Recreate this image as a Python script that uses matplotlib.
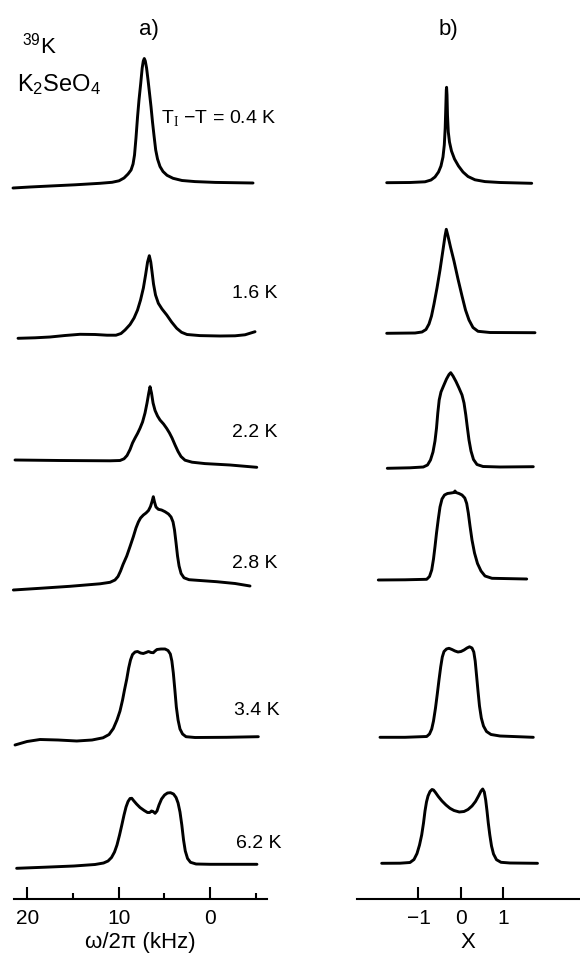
import matplotlib
matplotlib.use("Agg")
import matplotlib.pyplot as plt
import numpy as np

plt.rcParams['font.family'] = ['Liberation Sans', 'DejaVu Sans']
plt.rcParams['mathtext.fontset'] = 'custom'
plt.rcParams['mathtext.rm'] = 'Liberation Serif'
plt.rcParams['mathtext.sf'] = 'Liberation Sans'
plt.rcParams['mathtext.it'] = 'Liberation Sans:italic'

# ---------------- data ----------------
temps = ["0.4", "1.6", "2.2", "2.8", "3.4", "6.2"]   # T_I - T in K

# a) measured 39K spectra: frequency (kHz) and intensity (arb. units)
a_offsets = [716, 563, 438, 318, 161, 34]

a1_f = [21.58, 19.72, 17.52, 14.79, 12.05, 10.73, 9.97, 9.42, 8.98, 8.65, 8.43, 8.27, 8.11, 7.94,
        7.78, 7.59, 7.43, 7.31, 7.20, 7.09, 6.95, 6.79, 6.63, 6.46, 6.30, 6.13, 5.95, 5.75, 5.48,
        5.15, 4.71, 4.05, 3.07, 1.64, -0.55, -4.71]
a1_i = [-5, -4, -3, -1.8, -0.3, 0.7, 2.2, 5, 9, 13, 19, 28, 45, 66,
        83, 99.7, 115, 122, 124.5, 122, 115, 103, 90, 76, 61, 47, 33, 24, 16.5,
        11.5, 7.7, 4.7, 2.5, 1.4, 0.6, 0]

a2_f = [21.03, 19.17, 17.52, 15.88, 14.24, 12.59, 11.28, 10.30, 9.75, 9.31, 8.76, 8.32, 7.94, 7.61,
        7.30, 7.06, 6.84, 6.65, 6.49, 6.35, 6.19, 5.97, 5.66, 5.26, 4.74, 4.21, 3.65, 3.12, 2.52,
        1.10, -1.10, -2.74, -3.83, -4.93]
a2_i = [-2.3, -1.8, -1, 0.5, 1.7, 1.5, 0.8, 0.8, 2.5, 6, 11.5, 18, 26, 36,
        48, 61, 74, 80.3, 74, 64, 52, 41, 32.7, 27, 21, 14, 7.7, 3.7, 1.5,
        0.4, 0, 0.2, 1.2, 4.3]

a3_f = [21.36, 16.43, 10.95, 9.86, 9.42, 9.09, 8.76, 8.49, 8.21, 7.94, 7.67, 7.39, 7.12, 6.90,
        6.71, 6.57, 6.41, 6.24, 6.02, 5.75, 5.48, 5.09, 4.74, 4.44, 4.16, 3.83, 3.50, 3.18, 2.74,
        1.97, 0.55, -2.19, -5.12]
a3_i = [1, 0.5, 0.2, 0.5, 2.2, 5.5, 11.5, 18, 23, 27.5, 32.7, 39, 48, 58,
        68, 74.3, 68, 58, 50.5, 45, 41, 37, 32.5, 28, 23, 16, 9.5, 4.5, 0.8,
        -1.2, -2.6, -4, -6.3]

a4_f = [21.54, 18.62, 15.33, 12.05, 10.95, 10.41, 10.08, 9.80, 9.53, 9.12, 8.76, 8.40, 8.11, 7.85,
        7.61, 7.30, 7.01, 6.74, 6.52, 6.35, 6.21, 6.08, 5.92, 5.66, 5.31, 4.93, 4.55, 4.27, 4.05,
        3.89, 3.72, 3.56, 3.39, 3.17, 2.85, 2.30, 1.10, -0.73, -2.74, -4.38]
a4_i = [-9, -7.3, -5.3, -2.8, -1.3, 1, 4.5, 10, 16.5, 25, 34.5, 44.3, 53, 59,
        63, 66, 68, 70.5, 74.5, 79.5, 84.3, 79, 74, 71.7, 71, 69.3, 67, 64, 59,
        51, 38, 25, 15, 7.5, 3.2, 1.3, 0.5, -0.7, -2.5, -5]

a5_f = [21.36, 20.04, 18.62, 16.65, 14.60, 12.92, 11.72, 11.06, 10.59, 10.19, 9.86, 9.58, 9.37, 9.12,
        8.91, 8.71, 8.49, 8.21, 7.94, 7.61, 7.31, 7.01, 6.74, 6.46, 6.21, 6.02, 5.81, 5.37, 4.93,
        4.60, 4.35, 4.18, 4.02, 3.85, 3.69, 3.50, 3.29, 3.01, 2.63, 1.64, -1.83, -5.29]
a5_i = [-7, -3.5, -1.5, -2, -3, -2, 0.2, 3.5, 9.5, 18, 27, 38, 48, 59,
        70, 78, 83.5, 86, 86.5, 85, 84.5, 85.5, 86.5, 85.5, 85.3, 87, 88.5, 89, 89,
        87.5, 84, 77, 65, 48, 31, 18, 9, 4, 1.3, 0.5, 0.7, 1.3]

a6_f = [21.18, 18.07, 14.91, 12.60, 11.66, 11.17, 10.79, 10.46, 10.19, 9.91, 9.66, 9.42, 9.20, 8.98,
        8.76, 8.57, 8.38, 8.05, 7.67, 7.21, 6.85, 6.60, 6.41, 6.24, 6.02, 5.81, 5.59, 5.31, 4.98,
        4.66, 4.33, 4.00, 3.72, 3.50, 3.29, 3.09, 2.90, 2.71, 2.46, 2.14, 1.53, 0.0, -5.14]
a6_i = [-3.3, -2.2, -1, 0.5, 2, 4, 7.5, 13, 20, 30, 40, 50, 58, 63.5,
        66.5, 66.7, 64.5, 61, 57.5, 54.5, 52.5, 52.5, 54, 53.5, 51.7, 54, 60, 66, 70,
        72, 72.3, 71, 67.5, 62, 53, 40, 25, 14, 6.5, 2.7, 1, 0.7, 0.7]

# b) calculated line shapes: X and intensity (arb. units)
b_offsets = [716, 566, 432, 320, 162, 36]

b1_x = [-1.748, -1.200, -0.847, -0.706, -0.612, -0.529, -0.471, -0.424, -0.393, -0.372, -0.358,
        -0.346, -0.339, -0.329, -0.318, -0.299, -0.271, -0.224, -0.153, -0.059, 0.047, 0.165,
        0.329, 0.565, 0.918, 1.664]
b1_i = [0.3, 0.5, 1.2, 3, 6, 11, 17, 26, 38, 55, 75,
        93, 95.7, 88, 68, 51, 41, 32, 24, 17, 11, 6.5,
        3.2, 1.4, 0.5, -0.3]

b2_x = [-1.748, -1.082, -0.918, -0.824, -0.753, -0.694, -0.635, -0.565, -0.494, -0.424, -0.376,
        -0.346, -0.306, -0.247, -0.165, -0.071, 0.024, 0.106, 0.188, 0.282, 0.400, 0.682, 1.741]
b2_i = [-0.3, 0, 1, 3.5, 9, 17, 29, 45, 63, 83, 97,
        103.7, 97, 86, 72, 54, 37, 23, 13, 5.5, 1.7, 0.5, 0.3]

b3_x = [-1.734, -1.200, -0.887, -0.788, -0.718, -0.659, -0.612, -0.576, -0.546, -0.513, -0.471,
        -0.412, -0.341, -0.282, -0.242, -0.188, -0.118, -0.047, 0.024, 0.071, 0.113, 0.148,
        0.188, 0.235, 0.294, 0.376, 0.518, 0.918, 1.701]
b3_i = [-1.3, -0.8, 0, 2, 7, 15, 26, 39, 54, 67, 75,
        81, 88, 92.5, 94.3, 91, 85.5, 79, 72, 64, 52, 40,
        27, 16, 7.5, 2.5, 0.5, 0, 0.3]

b4_x = [-1.946, -1.318, -0.807, -0.741, -0.689, -0.647, -0.612, -0.576, -0.534, -0.494, -0.447,
        -0.388, -0.318, -0.235, -0.165, -0.141, -0.118, -0.047, 0.024, 0.089, 0.134, 0.172,
        0.212, 0.259, 0.318, 0.388, 0.471, 0.565, 0.729, 1.546]
b4_i = [-1, -0.8, -0.3, 2.5, 9, 20, 32.3, 46, 60, 72, 80,
        84, 85.5, 86, 86.5, 88, 86.5, 85.5, 84, 81, 75.5, 66,
        53, 39, 26, 15.5, 8, 3, 0.7, 0]

b5_x = [-1.906, -1.318, -0.807, -0.741, -0.689, -0.647, -0.600, -0.558, -0.518, -0.478, -0.440,
        -0.400, -0.341, -0.282, -0.212, -0.141, -0.071, 0.0, 0.071, 0.141, 0.200, 0.259,
        0.301, 0.334, 0.365, 0.400, 0.435, 0.478, 0.529, 0.600, 0.706, 0.918, 1.701]
b5_i = [-0.3, -0.3, 0.5, 3, 8, 16, 29, 43, 57, 70, 80,
        85.5, 88, 88.7, 87.5, 86, 85, 85.5, 87, 89, 90.2, 89,
        85, 76, 62, 46, 31, 19, 11, 5.5, 2.5, 1, -0.3]

b6_x = [-1.866, -1.435, -1.200, -1.106, -1.035, -0.976, -0.925, -0.882, -0.847, -0.812, -0.776,
        -0.729, -0.682, -0.647, -0.600, -0.534, -0.447, -0.353, -0.259, -0.165, -0.040, 0.071,
        0.165, 0.259, 0.341, 0.412, 0.471, 0.511, 0.548, 0.581, 0.612, 0.642, 0.678, 0.718,
        0.765, 0.835, 0.941, 1.153, 1.800]
b6_i = [-0.3, -0.2, 0.5, 3.5, 9.5, 18, 28, 40, 52, 61, 67,
        71.5, 73.5, 73, 70.5, 66.5, 62, 58, 54.7, 52.5, 51, 51.5,
        53.5, 57, 61.5, 67, 72, 74, 71, 63, 52, 40, 28, 17,
        9, 3.3, 0.7, 0, -0.3]

a_major = [20, 10, 0]
a_minor = [15, 5, -5]
a_ticklabels = ["20", "10", "0"]
b_major = [-1, 0, 1]
b_ticklabels = ["\u22121", "0", "1"]

# ---------------- figure ----------------
W, H = 580, 955
fig = plt.figure(figsize=(W / 100, H / 100), dpi=100)
fig.patch.set_facecolor('white')

def px(x, y):
    return x / W, 1 - y / H

axis_y = 899
ax_a = fig.add_axes([14 / W, (H - axis_y) / H, 253 / W, axis_y / H])
ax_b = fig.add_axes([356.7 / W, (H - axis_y) / H, (W - 356.7) / W, axis_y / H])
ax_a.set_xlim(21.47, -6.24)
ax_b.set_xlim(-2.454, 2.8)
for ax in (ax_a, ax_b):
    ax.set_ylim(0, axis_y)
    ax.patch.set_alpha(0)
    for s in ('left', 'right', 'top'):
        ax.spines[s].set_visible(False)
    ax.spines['bottom'].set_linewidth(1.5)
    ax.set_yticks([])
    ax.tick_params(axis='x', direction='in', length=9, width=1.5, pad=7,
                   labelsize=15)

a_series = [(a1_f, a1_i), (a2_f, a2_i), (a3_f, a3_i), (a4_f, a4_i), (a5_f, a5_i), (a6_f, a6_i)]
b_series = [(b1_x, b1_i), (b2_x, b2_i), (b3_x, b3_i), (b4_x, b4_i), (b5_x, b5_i), (b6_x, b6_i)]

for (f, inten), off in zip(a_series, a_offsets):
    ax_a.plot(f, np.array(inten) + off, color='black', lw=2.1, clip_on=False,
              solid_joinstyle='round', solid_capstyle='round')
for (xx, inten), off in zip(b_series, b_offsets):
    ax_b.plot(xx, np.array(inten) + off, color='black', lw=2.1, clip_on=False,
              solid_joinstyle='round', solid_capstyle='round')

ax_a.set_xticks(a_major)
ax_a.set_xticklabels(a_ticklabels)
ax_a.set_xticks(a_minor, minor=True)
ax_a.tick_params(axis='x', which='minor', direction='in', length=4.5, width=1.5)
ax_b.set_xticks(b_major)
ax_b.set_xticklabels(b_ticklabels)

ax_a.set_xlabel("\u03c9/2\u03c0 (kHz)", fontsize=16, labelpad=3)
ax_b.set_xlabel("X", fontsize=16, labelpad=3)

# temperature labels
label_pos = [(276, 118), (277, 293), (277, 432), (278, 563), (280, 710), (281, 843)]
for i, (t, (x, y)) in enumerate(zip(temps, label_pos)):
    s = ("T$_\\mathrm{I}$ \u2212T = " + t + " K") if i == 0 else (t + " K")
    fig.text(*px(x, y), s, ha='right', va='center', fontsize=14)

fig.text(*px(149, 29), "a)", ha='center', va='center', fontsize=16)
fig.text(*px(448, 29), "b)", ha='center', va='center', fontsize=16)
fig.text(*px(22, 46), "$^{\\mathsf{39}}$K", ha='left', va='center', fontsize=16)
fig.text(*px(17, 85), "K$_\\mathsf{2}$SeO$_\\mathsf{4}$", ha='left', va='center', fontsize=17)

fig.savefig("out.png", dpi=100, facecolor='white')
